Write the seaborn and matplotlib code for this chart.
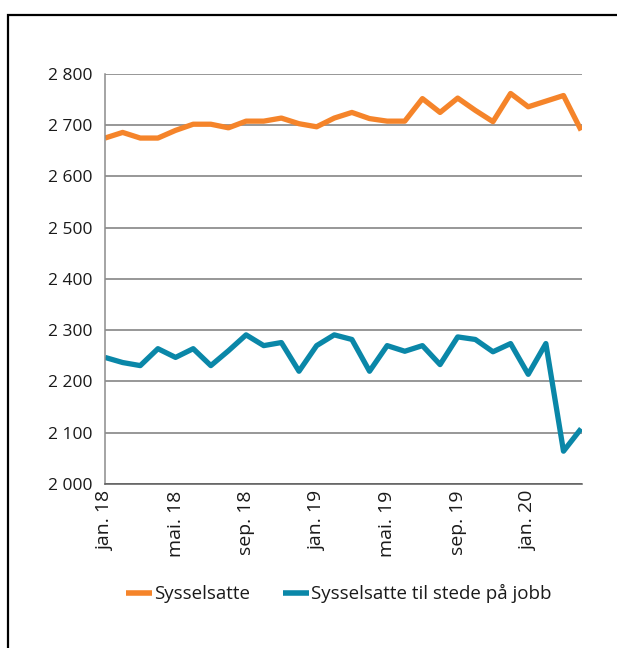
import matplotlib
matplotlib.use("Agg")
import matplotlib.pyplot as plt
import matplotlib.patches as mpatches
import seaborn as sns
import pandas as pd

# monthly figures (1000 persons), jan. 2018 - apr. 2020
months = ["jan. 18", "feb. 18", "mar. 18", "apr. 18", "mai. 18", "jun. 18", "jul. 18",
          "aug. 18", "sep. 18", "okt. 18", "nov. 18", "des. 18",
          "jan. 19", "feb. 19", "mar. 19", "apr. 19", "mai. 19", "jun. 19", "jul. 19",
          "aug. 19", "sep. 19", "okt. 19", "nov. 19", "des. 19",
          "jan. 20", "feb. 20", "mar. 20", "apr. 20"]
sysselsatte = [2675, 2686, 2675, 2675, 2690, 2702, 2702, 2695, 2708, 2708, 2714, 2703,
               2697, 2714, 2725, 2713, 2708, 2708, 2752, 2725, 2753, 2729, 2707, 2762,
               2736, 2747, 2758, 2690]
til_stede = [2247, 2237, 2231, 2264, 2247, 2264, 2231, 2260, 2291, 2270, 2276, 2220,
             2270, 2291, 2282, 2220, 2270, 2259, 2270, 2233, 2287, 2282, 2258, 2274,
             2214, 2274, 2064, 2108]
series_names = ["Sysselsatte", "Sysselsatte til stede på jobb"]
colors = ["#F5842A", "#0A87A8"]
yticks = [2000, 2100, 2200, 2300, 2400, 2500, 2600, 2700, 2800]
ylabels = ["2 000", "2 100", "2 200", "2 300", "2 400", "2 500", "2 600", "2 700", "2 800"]

n = len(months)
df = pd.DataFrame({
    "idx": list(range(n)) * 2,
    "verdi": sysselsatte + til_stede,
    "serie": [series_names[0]] * n + [series_names[1]] * n,
})

sns.set_style("white")
plt.rcParams["font.family"] = ["Open Sans", "DejaVu Sans"]

fig = plt.figure(figsize=(6.17, 6.48), dpi=100)
ax = fig.add_axes([0.1702, 0.2531, 0.7731, 0.6327])

sns.lineplot(data=df, x="idx", y="verdi", hue="serie", palette=colors,
             linewidth=3.8, ax=ax, solid_joinstyle="round", solid_capstyle="butt")

ax.set_xlim(0, 27.05)
ax.set_ylim(2000, 2800)
ax.set_yticks(yticks)
ax.set_yticklabels(ylabels)
ax.set_xticks(range(0, n, 4))
ax.set_xticklabels(months[::4], rotation=90)
ax.set_xlabel("")
ax.set_ylabel("")

ax.grid(axis="y", color="#7a7a7a", linewidth=1.1)
ax.set_axisbelow(True)
for side in ["top", "right"]:
    ax.spines[side].set_visible(False)
ax.spines["left"].set_color("#8c8c8c")
ax.spines["left"].set_linewidth(1.1)
ax.spines["bottom"].set_color("#5a5a5a")
ax.spines["bottom"].set_linewidth(1.1)
ax.tick_params(axis="y", direction="out", length=3, width=1, color="#8c8c8c",
               labelsize=12.5, pad=6)
ax.tick_params(axis="x", direction="in", length=8, width=1, color="#5a5a5a",
               labelsize=14, pad=5)
for lab in ax.get_yticklabels() + ax.get_xticklabels():
    lab.set_color("#1a1a1a")

sns.move_legend(ax, "center", bbox_to_anchor=(0.49, -0.268), ncol=2, frameon=False,
                title=None, fontsize=13.5, handlelength=1.35, handletextpad=0.1,
                columnspacing=1.8)
for line in ax.get_legend().get_lines():
    line.set_linewidth(4)
for txt in ax.get_legend().get_texts():
    txt.set_color("#1a1a1a")

# outer frame
fig.patches.append(mpatches.Rectangle((8 / 617, -0.1), 1.2, 1.1 - 15 / 648,
                                      transform=fig.transFigure, fill=False,
                                      edgecolor="black", linewidth=1.6, clip_on=False))

fig.savefig("out.png", dpi=100)
